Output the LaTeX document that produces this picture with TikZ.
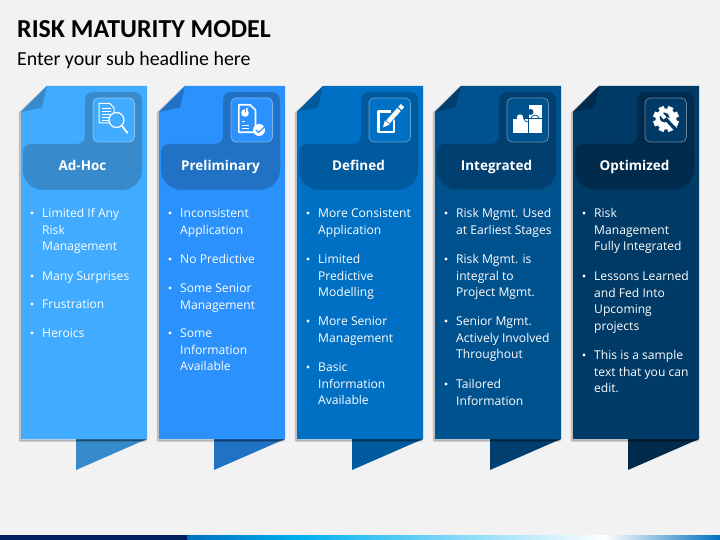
\documentclass[tikz,border=0pt]{standalone}
\usepackage{fontspec}
\setmainfont{Open Sans}
\newfontfamily\titlefont{Carlito}
\definecolor{pagegrey}{HTML}{F2F2F2}
\definecolor{cardA}{HTML}{41ABFF}
\definecolor{headA}{HTML}{378BCC}
\definecolor{cardB}{HTML}{2A91FD}
\definecolor{headB}{HTML}{2172C4}
\definecolor{cardC}{HTML}{0070C4}
\definecolor{headC}{HTML}{005A9E}
\definecolor{cardD}{HTML}{00528F}
\definecolor{headD}{HTML}{003F70}
\definecolor{cardE}{HTML}{003A66}
\definecolor{headE}{HTML}{002B4D}
\definecolor{barnavy}{HTML}{002060}
\definecolor{barblue}{HTML}{0070C0}
\definecolor{barsky}{HTML}{00B0F0}
\tikzset{
	riskitem/.style={anchor=north west, inner sep=0pt, text=white, align=left,
		font=\fontsize{12.1}{16.8}\selectfont},
	riskdot/.style={circle, fill=white, inner sep=0pt, minimum size=3.2pt},
	riskhead/.style={text=white, inner sep=0pt, text height=10pt, text depth=3pt,
		font=\fontsize{13.5}{17}\bfseries\selectfont},
	iconline/.style={draw=white, line width=1.2pt, line cap=round, line join=round}
}
% one bullet: name, x, y of the first line, text
\newcommand{\riskbullet}[4]{%
	\node[riskdot] (#1-dot) at (#2-10,#3) {};
	\node[riskitem] (#1) at (#2,#3-7.6) {\strut #4};
}
% one card: name, x offset, card colour, head colour, title
\newcommand{\riskcard}[5]{%
	\begin{scope}[xshift=#2pt]
		% ribbon below the card
		\fill[#4] (76,439) -- (147,439) -- (76,470) -- cycle;
		\fill[black, opacity=.25] (76,439) -- (147,439) -- (143,441) -- (76,441) -- cycle;
		% soft shadow, then the card
		\draw[black, opacity=.1, line width=3pt] (20,113) -- (46,88) -- (145.5,88) -- (145.5,440.5) -- (20,440.5) -- cycle;
		\draw[black, opacity=.18, line width=1.4pt] (20,113) -- (46,88) -- (145.5,88) -- (145.5,440.5) -- (20,440.5) -- cycle;
		\fill[#3] (21,112) -- (47,86) -- (147,86) -- (147,439) -- (21,439) -- cycle;
		% folded corner
		\fill[#4] (47,86) -- (21,112) -- (42,107.5) -- cycle;
		% head with its tab
		\fill[black, opacity=.18] (23,156) [rounded corners=20pt] -- (23,190) -- (142,190) [sharp corners] -- (142,156) -- cycle;
		\fill[#4] (23,170) [rounded corners=8pt] -- (23,144) -- (85,144) -- (85,92) -- (142,92) [rounded corners=20pt] -- (142,188) -- (23,188) [sharp corners] -- cycle;
		\node[riskhead] (#1-title) at (82.5,167.5) {#5};
		% box of the icon
		\draw[fill=#3, draw=white, draw opacity=.4, line width=.7pt, rounded corners=5pt] (93,98) rectangle (134.5,142);
	\end{scope}
}
\begin{document}
\begin{tikzpicture}[x=1pt, y=-1pt, line join=round]
	\useasboundingbox (0,0) rectangle (720,540);
	\fill[pagegrey] (0,0) rectangle (720,540);
	% Headings
	\node[anchor=west, inner sep=0pt, font=\titlefont\fontsize{25.9}{30}\bfseries\selectfont] (title) at (17,29) {RISK MATURITY MODEL};
	\node[anchor=west, inner sep=0pt, font=\titlefont\fontsize{19.9}{24}\selectfont] (subtitle) at (17,60) {Enter your sub headline here};
	% Cards
	\riskcard{adhoc}{0}{cardA}{headA}{Ad-Hoc}
	\riskcard{prelim}{138}{cardB}{headB}{Preliminary}
	\riskcard{defined}{276}{cardC}{headC}{Defined}
	\riskcard{integ}{414}{cardD}{headD}{Integrated}
	\riskcard{optim}{552}{cardE}{headE}{Optimized}
	% Bullets of Ad-Hoc
	\riskbullet{adhoc-a}{42}{213}{Limited If Any\\Risk\\Management}
	\riskbullet{adhoc-b}{42}{276}{Many Surprises}
	\riskbullet{adhoc-c}{42}{304}{Frustration}
	\riskbullet{adhoc-d}{42}{333}{Heroics}
	% Bullets of Preliminary
	\riskbullet{prelim-a}{180}{213}{Inconsistent\\Application}
	\riskbullet{prelim-b}{180}{259}{No Predictive}
	\riskbullet{prelim-c}{180}{288}{Some Senior\\Management}
	\riskbullet{prelim-d}{180}{333}{Some\\Information\\Available}
	% Bullets of Defined
	\riskbullet{defined-a}{318}{213}{More Consistent\\Application}
	\riskbullet{defined-b}{318}{259}{Limited\\Predictive\\Modelling}
	\riskbullet{defined-c}{318}{321}{More Senior\\Management}
	\riskbullet{defined-d}{318}{367}{Basic\\Information\\Available}
	% Bullets of Integrated
	\riskbullet{integ-a}{456}{213}{Risk Mgmt. Used\\at Earliest Stages}
	\riskbullet{integ-b}{456}{259}{Risk Mgmt. is\\integral to\\Project Mgmt.}
	\riskbullet{integ-c}{456}{321}{Senior Mgmt.\\Actively Involved\\Throughout}
	\riskbullet{integ-d}{456}{384}{Tailored\\Information}
	% Bullets of Optimized
	\riskbullet{optim-a}{594}{213}{Risk\\Management\\Fully Integrated}
	\riskbullet{optim-b}{594}{276}{Lessons Learned\\and Fed Into\\Upcoming\\projects}
	\riskbullet{optim-c}{594}{355}{This is a sample\\text that you can\\edit.}
	% Icon: page and magnifier
	\draw[iconline, line width=1pt] (99,103.5) -- (110,103.5) -- (114,108) -- (114,123) -- (99,123) -- cycle;
	\foreach \y in {108,111,114,117,120}
		\draw[white, line width=.8pt] (102,\y) -- (111,\y);
	\draw[iconline, fill=cardA] (116.5,120) circle (7.5);
	\draw[iconline, line width=1.8pt] (122,126) -- (127.5,133);
	% Icon: report with a pie and a tick
	\draw[iconline, line width=1.6pt] (238.8,104.8) -- (250,104.8) -- (255.5,110) -- (255.5,132.3) -- (238.8,132.3) -- cycle;
	\fill[white] (245,113) circle (3.8);
	\fill[cardB] (245,113) -- (245,108.5) arc (90:10:4.5) -- cycle;
	\fill[white] (246,112) -- (246,108.5) arc (90:10:3.5) -- cycle;
	\draw[white, line width=1pt] (242,122) -- (245,122);
	\draw[white, line width=1pt] (242,125.5) -- (249,125.5);
	\draw[white, line width=1pt] (242,129) -- (249,129);
	\fill[white] (259,130) circle (6);
	\draw[cardB, line width=1.2pt] (256,130) -- (258.5,132.5) -- (266,125.5);
	% Icon: square and pencil
	\draw[white, line width=2.6pt] (394,118) -- (394,132) -- (378.5,132) -- (378.5,111.3) -- (391,111.3);
	\draw[cardC, line width=7pt] (385,124.5) -- (402,106);
	\draw[white, line width=4.6pt] (388,122) -- (399,109.5);
	\fill[white] (383,127.5) -- (384.8,120.5) -- (389.8,124.5) -- cycle;
	\draw[white, line width=4.6pt] (400,108.4) -- (402.5,105.6);
	% Icon: puzzle
	\fill[white] (513,119) rectangle (527.6,133);
	\fill[white] (520,117.5) circle (3.2);
	\fill[white] (528.6,105) rectangle (542,118);
	\fill[white] (528.6,119) rectangle (542,133);
	\fill[cardD] (530.5,112) circle (3);
	\draw[cardD, line width=.8pt] (527.6,122) arc (90:270:3.5);
	\draw[cardD, line width=.8pt] (531,119) arc (180:360:4);
	% Icon: gear and wrench
	\foreach \a in {0,45,...,315}
		\draw[white, line width=5.5pt] (666,119) -- ++(\a+22.5:13);
	\fill[white] (666,119) circle (10.5);
	\fill[cardE] (664.5,117.5) circle (5);
	\draw[cardE, line width=3.4pt] (665,118) -- (677,131);
	\draw[white, line width=.8pt] (667.5,117.5) -- (677,127.5);
	\fill[white] (661,111.5) -- (666.5,117) -- (663.5,119.5) -- (659,114) -- cycle;
	% Bar along the bottom
	\fill[barnavy] (0,535) rectangle (188,540);
	\shade[left color=barblue, right color=barsky] (187.5,535) rectangle (300,540);
	\shade[left color=barsky, right color=white] (299.5,535) rectangle (605,540);
	\shade[left color=white, right color=barblue] (604.5,535) rectangle (720,540);
\end{tikzpicture}
\end{document}
